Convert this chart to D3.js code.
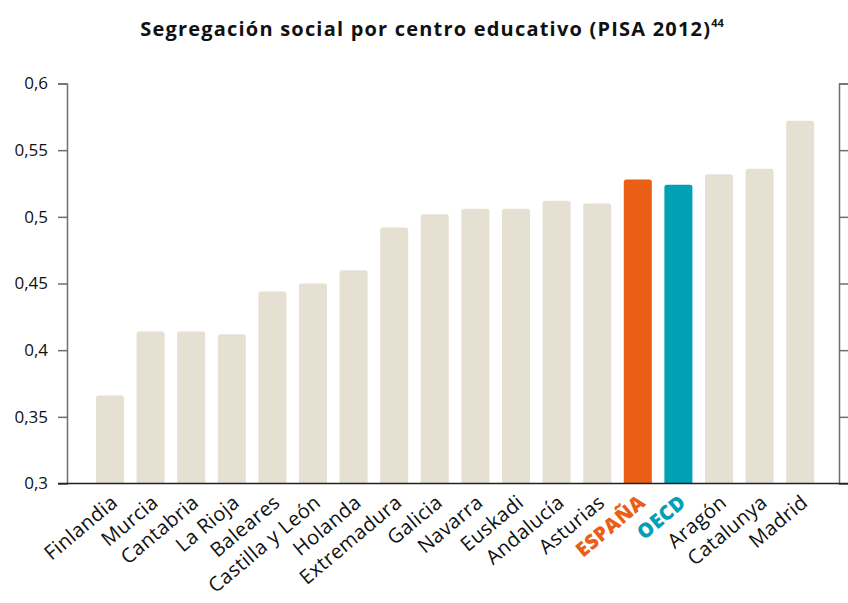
<!DOCTYPE html>
<html><head><meta charset="utf-8">
<script src="https://cdn.jsdelivr.net/npm/d3@7"></script>
<style>
html,body{margin:0;padding:0;background:#fff;}
svg{display:block;}
</style></head>
<body>
<svg id="chart" width="848" height="603"></svg>
<script>
const categories = ["Finlandia","Murcia","Cantabria","La Rioja","Baleares","Castilla y León","Holanda","Extremadura","Galicia","Navarra","Euskadi","Andalucía","Asturias","ESPAÑA","OECD","Aragón","Catalunya","Madrid"];
const values = [0.366,0.414,0.414,0.412,0.444,0.450,0.460,0.492,0.502,0.506,0.506,0.512,0.510,0.528,0.524,0.532,0.536,0.572];
const tickValues = [0.3,0.35,0.4,0.45,0.5,0.55,0.6];
const tickLabels = ["0,3","0,35","0,4","0,45","0,5","0,55","0,6"];
const highlight = {"ESPAÑA":"#ea5e15","OECD":"#00a0b5"};
const title = "Segregación social por centro educativo (PISA 2012)";
const titleSup = "44";

(function(){
const FONT = "'Open Sans', sans-serif";
const svg = d3.select("#chart");
const mLeft = 67, mRight = 839, mTop = 83.5, mBottom = 483.5;

const x = d3.scaleBand().domain(categories).range([89.7, 820.5]).paddingInner(0.31).paddingOuter(0.155);
const y = d3.scaleLinear().domain([0.3, 0.6]).range([mBottom, mTop]);

// title
const t = svg.append("text").attr("x", 432).attr("y", 36).attr("text-anchor","middle")
  .attr("font-family", FONT).attr("font-weight", 700).attr("font-size", 20)
  .attr("letter-spacing", 1.2).attr("fill","#111");
t.append("tspan").text(title);
t.append("tspan").attr("dy", -9).attr("font-size", 11).attr("letter-spacing", 0).text(titleSup);

// bars with rounded tops
function barPath(d, i) {
  const x0 = x(categories[i]), w = x.bandwidth(), y0 = y(d), y1 = y(0.3), r = 2.5;
  return `M${x0},${y1}V${y0+r}Q${x0},${y0} ${x0+r},${y0}H${x0+w-r}Q${x0+w},${y0} ${x0+w},${y0+r}V${y1}Z`;
}
svg.append("g").selectAll("path").data(values).join("path")
  .attr("d", barPath)
  .attr("fill", (d,i) => highlight[categories[i]] || "#e6e0d3");

// left axis
const yAxis = d3.axisLeft(y).tickValues(tickValues).tickSize(9).tickPadding(10)
  .tickFormat((d,i) => tickLabels[i]);
const gl = svg.append("g").attr("transform", `translate(${mLeft},0)`).call(yAxis);
gl.select(".domain").attr("stroke","#6e6e6e").attr("stroke-width",1.5);
gl.selectAll(".tick line").attr("stroke","#6e6e6e").attr("stroke-width",1.5);
gl.selectAll(".tick text").attr("font-family", FONT).attr("font-size", 17).attr("fill","#111");

// right axis
const yAxisR = d3.axisRight(y).tickValues(tickValues).tickSize(9).tickFormat("");
const gr = svg.append("g").attr("transform", `translate(${mRight},0)`).call(yAxisR);
gr.select(".domain").attr("stroke","#6e6e6e").attr("stroke-width",1.5);
gr.selectAll(".tick line").attr("stroke","#6e6e6e").attr("stroke-width",1.5);

// baseline
svg.append("line").attr("x1", mLeft-9).attr("x2", 848).attr("y1", y(0.3)).attr("y2", y(0.3))
  .attr("stroke","#222").attr("stroke-width",1.6);

// x labels
const xAxis = d3.axisBottom(x).tickSize(0).tickPadding(0);
const gx = svg.append("g").attr("transform", `translate(0,${mBottom})`).call(xAxis);
gx.select(".domain").remove();
gx.selectAll(".tick text")
  .attr("font-family", FONT).attr("font-size", 20)
  .attr("letter-spacing", 0.4)
  .attr("text-anchor","end").attr("dy", 0).attr("y", 0)
  .attr("transform", "translate(9,21) rotate(-40)")
  .attr("fill", d => highlight[d] || "#111")
  .attr("font-weight", d => highlight[d] ? 800 : 400);
})();
</script>
</body></html>
